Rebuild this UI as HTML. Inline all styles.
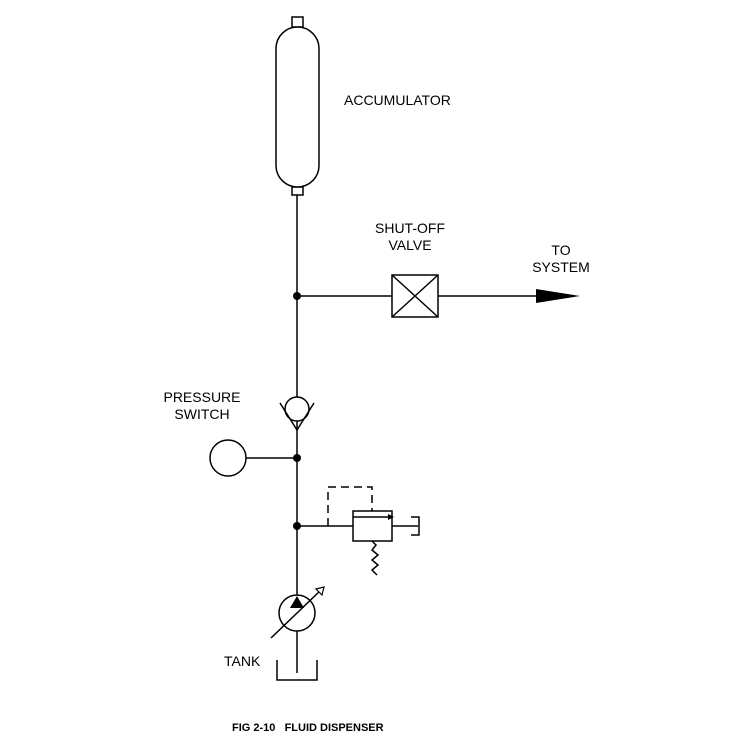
<!DOCTYPE html>
<html><head><style>body{margin:0;background:#fff}svg{display:block}text{font-family:"Liberation Sans",Arial,sans-serif;font-size:14px;fill:#000}</style></head>
<body>
<svg width="750" height="750" viewBox="0 0 750 750" xmlns="http://www.w3.org/2000/svg">
<g stroke="#000" stroke-width="1.5" fill="none">
<rect x="292" y="17" width="11" height="10" fill="#fff"/>
<rect x="292" y="187" width="11" height="8" fill="#fff"/>
<rect x="276" y="27" width="43" height="160" rx="21.5" fill="#fff"/>
<line x1="297" y1="195" x2="297" y2="397"/>
<line x1="297" y1="421" x2="297" y2="595"/>
<line x1="297" y1="631" x2="297" y2="673"/>
<circle cx="297" cy="409" r="12"/>
<polyline points="280,403 297,430 314,403"/>
<line x1="297" y1="296" x2="392" y2="296"/>
<rect x="392" y="275" width="46" height="42"/>
<line x1="392" y1="275" x2="438" y2="317"/>
<line x1="438" y1="275" x2="392" y2="317"/>
<line x1="438" y1="296" x2="540" y2="296"/>
<circle cx="228" cy="458" r="18"/>
<line x1="246" y1="458" x2="297" y2="458"/>
<line x1="297" y1="526" x2="353" y2="526"/>
<rect x="353" y="511" width="39" height="30"/>
<line x1="353" y1="517" x2="388" y2="517"/>
<line x1="392" y1="526" x2="418" y2="526"/>
<polyline points="411,517 419,517 419,535 411,535"/>
<polyline points="328,526 328,487 372,487 372,511" stroke-dasharray="8,5"/>
<polyline points="372,541 376,545 372,550 378,555 372,560 378,565 372,570 377,575"/>
<circle cx="297" cy="613" r="18"/>
<line x1="271" y1="638" x2="322" y2="589"/>
<polyline points="277,660 277,680 317,680 317,660"/>
</g>
<polygon points="536,289 580,296 536,303" fill="#000"/>
<polygon points="388,514 394,517 388,520" fill="#000"/>
<polygon points="297,596 290,608 304,608" fill="#000"/>
<polygon points="324,587 316,589 322,595" fill="#fff" stroke="#000" stroke-width="1.2"/>
<circle cx="297" cy="296" r="4" fill="#000"/>
<circle cx="297" cy="458" r="4" fill="#000"/>
<circle cx="297" cy="526" r="4" fill="#000"/>
<text x="344" y="105">ACCUMULATOR</text>
<text x="410" y="233" text-anchor="middle">SHUT-OFF</text>
<text x="410" y="250" text-anchor="middle">VALVE</text>
<text x="561" y="255" text-anchor="middle">TO</text>
<text x="561" y="272" text-anchor="middle">SYSTEM</text>
<text x="202" y="402" text-anchor="middle">PRESSURE</text>
<text x="202" y="419" text-anchor="middle">SWITCH</text>
<text x="224" y="666">TANK</text>
<text x="232" y="731" style="font-size:11px;font-weight:bold;white-space:pre" xml:space="preserve">FIG 2-10   FLUID DISPENSER</text>
</svg>
</body></html>
